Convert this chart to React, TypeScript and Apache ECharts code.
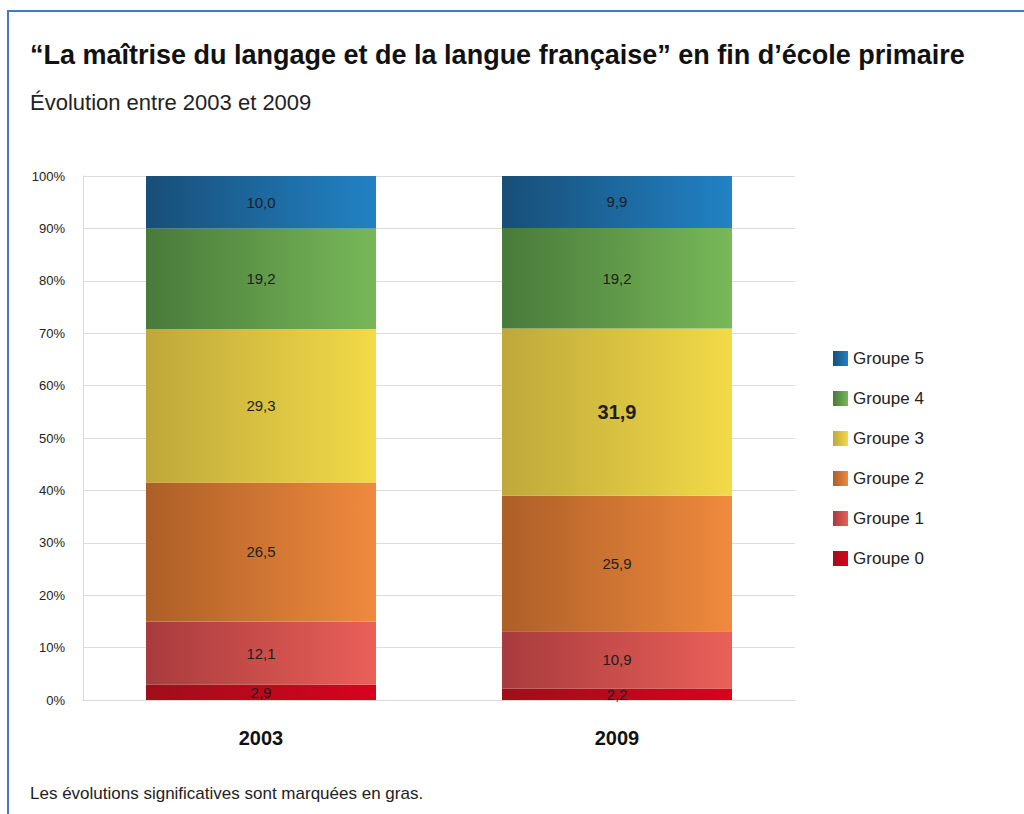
import React, { useEffect, useRef } from "react";
import * as echarts from "echarts";

const categories = ["2003", "2009"];
const groupe0 = [2.9, 2.2];
const groupe1 = [12.1, 10.9];
const groupe2 = [26.5, 25.9];
const groupe3 = [29.3, 31.9];
const groupe4 = [19.2, 19.2];
const groupe5 = [10.0, 9.9];
const boldGroupe3 = [false, true];
const yTicks = ["0%", "10%", "20%", "30%", "40%", "50%", "60%", "70%", "80%", "90%", "100%"];

const FONT = "'Liberation Sans', Arial, sans-serif";

const grad = (a: string, b: string) => ({
  type: "linear",
  x: 0,
  y: 0,
  x2: 1,
  y2: 0,
  colorStops: [
    { offset: 0, color: a },
    { offset: 1, color: b },
  ],
});

export default function App() {
  const ref = useRef<HTMLDivElement>(null);
  useEffect(() => {
    document.body.style.margin = "0";
    const chart = echarts.init(ref.current!, null, { renderer: "svg" });
    const fmt = (p: any) => Number(p.value).toFixed(1).replace(".", ",");
    const mk = (name: string, values: number[], c1: string, c2: string, bold?: boolean[]) => ({
      name,
      type: "bar",
      stack: "total",
      barWidth: 230,
      itemStyle: { color: grad(c1, c2) },
      label: {
        show: true,
        position: "inside",
        formatter: fmt,
        color: "#1e1e1e",
        fontSize: 15,
        fontFamily: FONT,
      },
      data: values.map((v, i) =>
        bold && bold[i] ? { value: v, label: { fontWeight: "bold", fontSize: 20 } } : { value: v }
      ),
    });
    chart.setOption({
      animation: false,
      backgroundColor: "#ffffff",
      textStyle: { fontFamily: FONT },
      title: [
        {
          text: "“La maîtrise du langage et de la langue française” en fin d’école primaire",
          left: 25,
          top: 36,
          textStyle: { fontSize: 27, fontWeight: "bold", color: "#111", fontFamily: FONT },
        },
        {
          text: "Évolution entre 2003 et 2009",
          left: 25,
          top: 86,
          textStyle: { fontSize: 22, fontWeight: "normal", color: "#222", fontFamily: FONT },
        },
        {
          text: "Les évolutions significatives sont marquées en gras.",
          left: 25,
          top: 780,
          textStyle: { fontSize: 17, fontWeight: "normal", color: "#222", fontFamily: FONT },
        },
      ],
      graphic: [
        { type: "line", shape: { x1: 8, y1: 11, x2: 1024, y2: 11 }, style: { stroke: "#3d7cc0", lineWidth: 2 } },
        { type: "line", shape: { x1: 8, y1: 10, x2: 8, y2: 814 }, style: { stroke: "#3d7cc0", lineWidth: 2 } },
      ],
      legend: {
        orient: "vertical",
        left: 828,
        top: 345,
        itemWidth: 15,
        itemHeight: 15,
        itemGap: 23,
        icon: "rect",
        data: ["Groupe 5", "Groupe 4", "Groupe 3", "Groupe 2", "Groupe 1", "Groupe 0"],
        textStyle: { fontSize: 17, color: "#222", fontFamily: FONT },
      },
      grid: { left: 83, right: 229, top: 176, bottom: 114 },
      xAxis: {
        type: "category",
        data: categories,
        axisTick: { show: false },
        axisLine: { lineStyle: { color: "#d9d9d9" } },
        axisLabel: { fontSize: 20, fontWeight: "bold", color: "#111", margin: 28, fontFamily: FONT },
      },
      yAxis: {
        type: "value",
        min: 0,
        max: 100,
        interval: 10,
        axisLine: { show: true, lineStyle: { color: "#d9d9d9" } },
        axisTick: { show: false },
        splitLine: { lineStyle: { color: "#dcdcdc" } },
        axisLabel: {
          fontSize: 13,
          color: "#222",
          margin: 18,
          fontFamily: FONT,
          formatter: (v: number) => yTicks[Math.round(v / 10)],
        },
      },
      series: [
        mk("Groupe 0", groupe0, "#9e0f1a", "#d8021e"),
        mk("Groupe 1", groupe1, "#a83b3e", "#ea6058"),
        mk("Groupe 2", groupe2, "#ad5f27", "#f08a3e"),
        mk("Groupe 3", groupe3, "#bfa83a", "#f2da48", boldGroupe3),
        mk("Groupe 4", groupe4, "#487a3a", "#78b858"),
        mk("Groupe 5", groupe5, "#184e78", "#2282c4"),
      ],
    });
    return () => chart.dispose();
  }, []);
  return <div ref={ref} style={{ width: 1024, height: 814 }} />;
}
